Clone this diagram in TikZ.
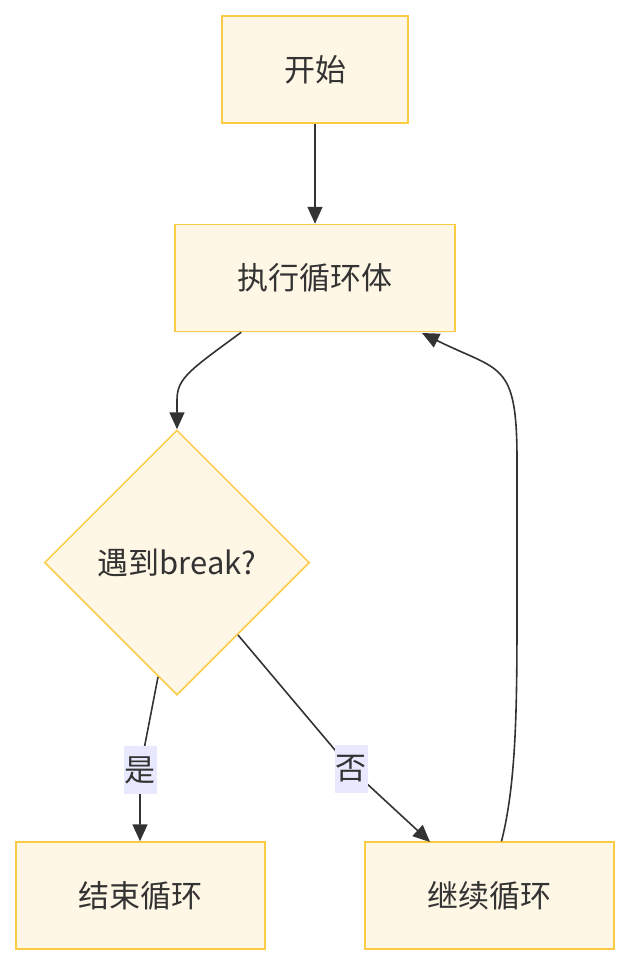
\documentclass[tikz,border=0pt]{standalone}
\usepackage{fontspec}
\setmainfont{Noto Sans CJK SC}
\usepackage{xcolor}
\usetikzlibrary{arrows.meta}
\usetikzlibrary{positioning}
\usetikzlibrary{shapes.geometric}
\definecolor{boxfill}{HTML}{FFF7E5}
\definecolor{boxline}{HTML}{FCCB45}
\definecolor{inkgray}{HTML}{333333}
\definecolor{tagfill}{HTML}{E8E8FF}

\tikzset{
  stepbox/.style={draw=boxline, fill=boxfill, line width=1.5pt, text=inkgray,
    minimum height=107pt, inner sep=0pt},
  decision/.style={diamond, draw=boxline, fill=boxfill, line width=1.5pt,
    text=inkgray, minimum size=265pt, inner sep=0pt, aspect=1},
  flow/.style={draw=inkgray, line width=1.6pt,
    -{Triangle[length=17pt, width=15pt]}},
  tag/.style={fill=tagfill, text=inkgray, inner sep=1pt,
    minimum width=32pt, minimum height=48pt},
}

\begin{document}
\begin{tikzpicture}[x=1pt, y=-1pt, font=\fontsize{31}{36}\selectfont]
    \useasboundingbox (0,0) rectangle (630,966);

    \node[stepbox, minimum width=186pt] (start) at (315,69.5) {开始};
    \node[stepbox, minimum width=280pt, below=100pt of start] (body) {执行循环体};
    \node[decision] (brk) at (177,562.5) {遇到break?};
    \node[stepbox, minimum width=249pt] (done) at (140.5,895.5) {结束循环};
    \node[stepbox, minimum width=249pt] (next) at (489.5,895.5) {继续循环};

    \coordinate (b1) at ([xshift=67pt]body.south west);
    \coordinate (c1) at ([xshift=12pt]next.north);

    \draw[flow] (start) -- (body);
    \draw[flow] (b1) .. controls (190,370) and (177,378) .. (177,400) -- (brk.north);
    \draw[flow] (158,677) -- (140,770) node[tag, pos=1] {是} -- (done.north -| 140,0);
    \draw[flow] (238,635) -- (351,769) node[tag, pos=1] {否} -- (430,842);
    \draw[flow] (c1) .. controls (517,780) and (517,700) .. (517,600)
      -- (517,460) .. controls (517,360) and (500,372) .. (422,333);
\end{tikzpicture}
\end{document}
